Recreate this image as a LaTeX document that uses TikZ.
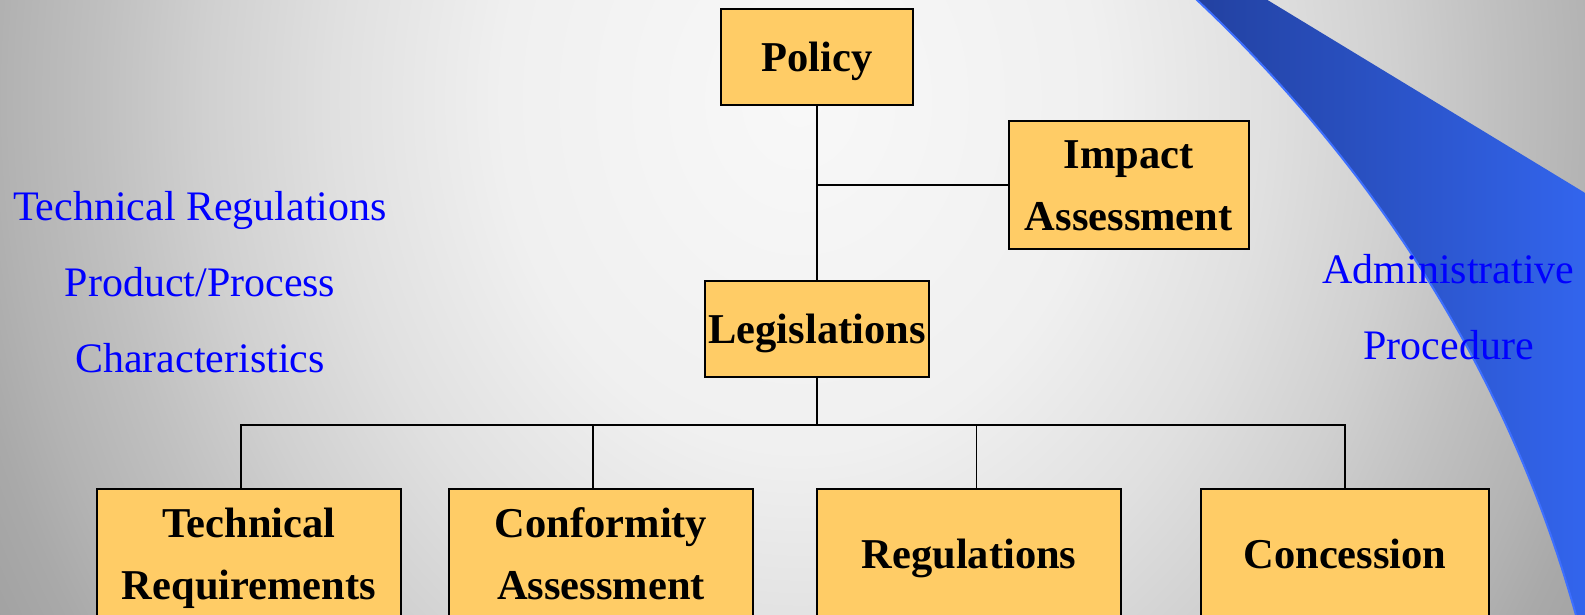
\documentclass[tikz,border=0pt]{standalone}
\usepackage{fontspec}
\setmainfont{Liberation Serif}
\definecolor{boxfill}{HTML}{FFCC66}
\definecolor{labelblue}{HTML}{0000FF}
\definecolor{swA}{HTML}{22409E}
\definecolor{swB}{HTML}{3366F0}
\definecolor{swEdge}{HTML}{3D6FFF}
\pgfdeclareradialshading{bgsh}{\pgfpoint{0bp}{0bp}}{rgb(0bp)=(0.973,0.973,0.973); rgb(8.75bp)=(0.941,0.941,0.941); rgb(13.75bp)=(0.878,0.878,0.878); rgb(17.5bp)=(0.816,0.816,0.816); rgb(20.5bp)=(0.753,0.753,0.753); rgb(23.25bp)=(0.702,0.702,0.702); rgb(25bp)=(0.663,0.663,0.663); rgb(27.5bp)=(0.627,0.627,0.627); rgb(50bp)=(0.627,0.627,0.627)}
\newcommand\bst{\rule[-0.22em]{0pt}{1.12em}}
\tikzset{
  box/.style={draw=black, line width=2pt, fill=boxfill, rectangle, inner sep=0pt, align=center,
    font=\bfseries\fontsize{42.5}{62}\selectfont},
  conn/.style={draw=black, line width=1.8pt, line join=miter},
  lbl/.style={text=labelblue, font=\fontsize{42}{50}\selectfont, anchor=base, inner sep=0pt},
}
\begin{document}
\begin{tikzpicture}[x=1pt,y=-1pt]
\useasboundingbox (0,0) rectangle (1585,615);
\begin{scope}
  \clip (0,0) rectangle (1585,615);
  \shade[shading=bgsh] (-50,-900) rectangle (1650,1100);
  \shade[left color=swA, right color=swB]
    (1186,-10.3) -- (1197,0) .. controls (1330,125) and (1500,330) .. (1580,630)
    -- (1600,630) -- (1600,202) -- (1251,-10) -- cycle;
  \draw[swEdge, line width=2pt]
    (1186,-10.3) -- (1197,0) .. controls (1330,125) and (1500,330) .. (1580,630);
\end{scope}

% boxes
\node[box, minimum width=192.6pt, minimum height=96pt] (policy) at (817,57) {\bst Policy};
\node[box, minimum width=240.5pt, minimum height=128pt] (impact) at (1128.75,185) {\bst Impact\\\bst Assessment};
\node[box, minimum width=224pt, minimum height=96pt] (leg) at (817,329) {\bst Legislations};
\node[box, minimum width=304pt, minimum height=131pt] (tr) at (249,554.5) {\bst Technical\\\bst Requirements};
\node[box, minimum width=304pt, minimum height=131pt] (ca) at (601,554.5) {\bst Conformity\\\bst Assessment};
\node[box, minimum width=304pt, minimum height=131pt] (reg) at (969,554.5) {\bst Regulations};
\node[box, minimum width=288.6pt, minimum height=131pt] (con) at (1345,554.5) {\bst Concession};

% connectors
\coordinate (bus) at (817,425);
\coordinate (b1) at (240.8,425);
\coordinate (b2) at (593,425);
\coordinate (b3) at (976.5,425);
\coordinate (b4) at (1345,425);
\draw[conn] (policy.south) -- (leg.north);
\draw[conn] (impact.west) -- (impact.west -| policy.south);
\draw[conn] (leg.south) -- (bus);
\draw[conn] (b1 |- tr.north) -- (b1) -- (b4) -- (b4 |- con.north);
\draw[conn] (b2) -- (b2 |- ca.north);
\draw[conn] (b3) -- (b3 |- reg.north);

% labels
\node[lbl] (t1) at (200,220) {Technical Regulations};
\node[lbl] (t2) at (200,296.7) {Product/Process};
\node[lbl] (t3) at (200,372.7) {Characteristics};
\node[lbl] (a1) at (1448.5,283) {Administrative};
\node[lbl] (a2) at (1448.5,359) {Procedure};
\end{tikzpicture}
\end{document}
